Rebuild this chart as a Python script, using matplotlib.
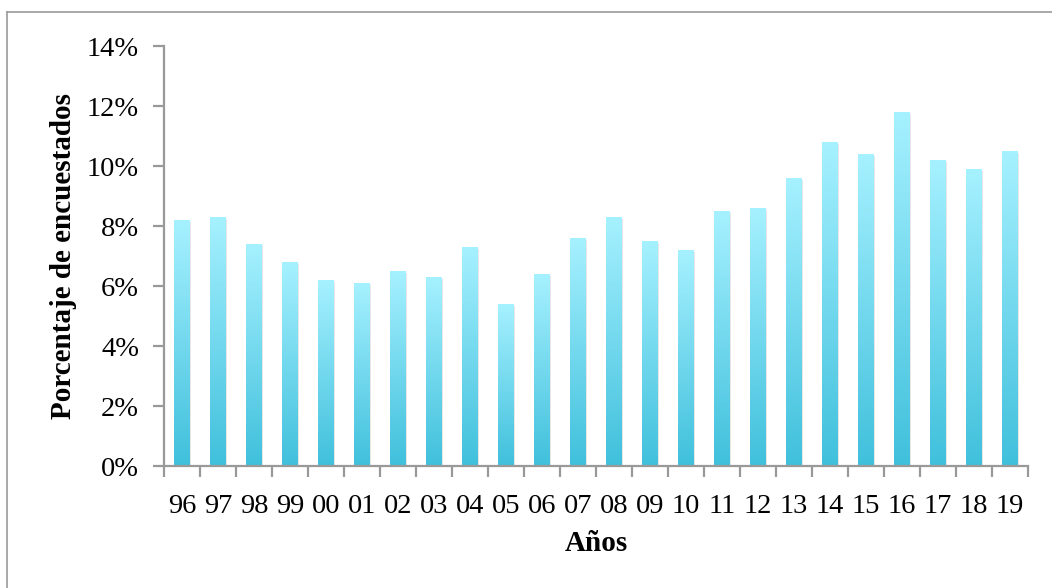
import numpy as np
import matplotlib
matplotlib.use("Agg")
import matplotlib.pyplot as plt
from matplotlib.colors import LinearSegmentedColormap
from matplotlib.lines import Line2D

years = ["96", "97", "98", "99", "00", "01", "02", "03", "04", "05", "06", "07",
         "08", "09", "10", "11", "12", "13", "14", "15", "16", "17", "18", "19"]
values = [8.2, 8.3, 7.4, 6.8, 6.2, 6.1, 6.5, 6.3, 7.3, 5.4, 6.4, 7.6,
          8.3, 7.5, 7.2, 8.5, 8.6, 9.6, 10.8, 10.4, 11.8, 10.2, 9.9, 10.5]
yticks = [0, 2, 4, 6, 8, 10, 12, 14]
ylabel = "Porcentaje de encuestados"
xlabel = "Años"

plt.rcParams['font.family'] = ['Liberation Serif', 'DejaVu Serif']

fig = plt.figure(figsize=(10.52, 5.88), dpi=100)
ax = fig.add_axes([164/1052, (588-466)/588, 864/1052, 420/588])

# outer frame (left/top edges visible)
fig.add_artist(Line2D([7/1052, 7/1052], [0, 1 - 12/588], transform=fig.transFigure,
                      color="#9a9a9a", lw=1.2))
fig.add_artist(Line2D([7/1052, 1], [1 - 12/588, 1 - 12/588], transform=fig.transFigure,
                      color="#9a9a9a", lw=1.2))

x = np.arange(len(years))
w = 0.42
cmap = LinearSegmentedColormap.from_list("g", ["#40c0dc", "#a6f1ff"])
grad = np.linspace(0, 1, 256).reshape(-1, 1)

for xi, v in zip(x, values):
    # shadow
    ax.bar(xi + 0.05, v - 0.05, width=w, bottom=0, color="#bbbbbb", alpha=0.35,
           edgecolor="none", zorder=1)
    bar = ax.bar(xi, v, width=w, color="none", edgecolor="none", zorder=2)[0]
    im = ax.imshow(grad, cmap=cmap, aspect="auto", origin="lower",
                   extent=[xi - w/2, xi + w/2, 0, v], zorder=2)
    im.set_clip_path(bar)

ax.set_xlim(-0.5, len(years) - 0.5)
ax.set_ylim(0, 14)

ax.set_yticks(yticks)
ax.set_yticklabels([f"{t}%" for t in yticks])
ax.set_xticks(x)
ax.set_xticklabels(years)
ax.set_xticks(np.arange(-0.5, len(years)), minor=True)

for s in ["top", "right"]:
    ax.spines[s].set_visible(False)
for s in ["left", "bottom"]:
    ax.spines[s].set_color("#999999")
    ax.spines[s].set_linewidth(1.6)

ax.tick_params(axis="y", length=8, width=1.6, color="#999999", labelsize=20.5, pad=10)
ax.tick_params(axis="x", which="major", length=0, labelsize=20.5, pad=20)
ax.tick_params(axis="x", which="minor", length=8, width=1.6, color="#999999")

ax.set_ylabel(ylabel, fontsize=21, fontweight="bold", labelpad=7)
ax.set_xlabel(xlabel, fontsize=21, fontweight="bold", labelpad=8)

fig.savefig("out.png", dpi=100, facecolor="white")
